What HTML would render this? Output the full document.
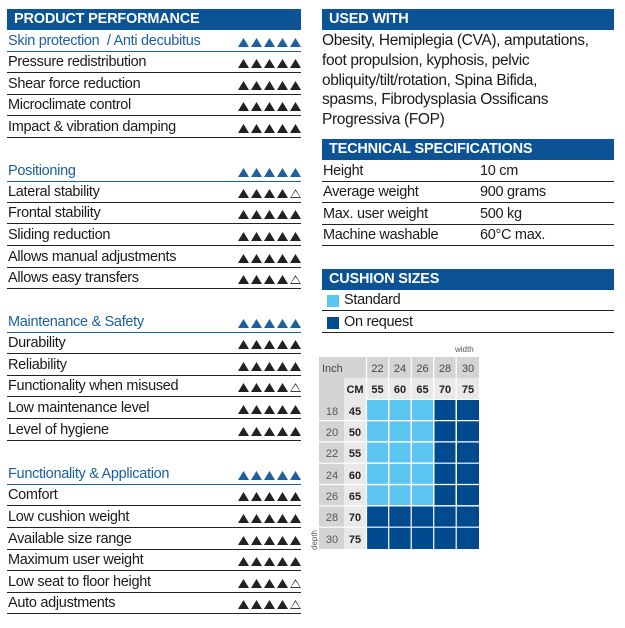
<!DOCTYPE html>
<html><head><meta charset="utf-8"><style>
*{margin:0;padding:0;box-sizing:border-box}
body{width:625px;height:628px;background:#fff;position:relative;font-family:"Liberation Sans",sans-serif;color:#1a1a1a;overflow:hidden}
.bar{position:absolute;height:21px;background:#0b5394;color:#fff;font-weight:bold;font-size:14.5px;line-height:21px;padding-left:7px;letter-spacing:-0.2px}
.r{position:absolute;left:7px;width:294px;height:21px;border-bottom:1px solid #222;font-size:14.5px;line-height:21px;padding-left:1px;letter-spacing:-0.3px}
.c{color:#1d5fa0;border-bottom:1.5px solid #1d5fa0}
.t{position:absolute;right:0;top:7px;height:9px;display:flex;gap:2px}
.t i{display:block;width:11px;height:9px;background:#222;clip-path:polygon(50% 0,100% 100%,0 100%)}
.c .t i{background:#1d5fa0}
.t i.o{background:none;position:relative}
.t i.o:after{content:"";position:absolute;inset:0;background:#222;clip-path:polygon(50% 0,100% 100%,0 100%,0 100%,50% 0,50% 18%,10% 90%,90% 90%,50% 18%,50% 0)}
.s{position:absolute;left:322px;width:292px;height:21px;border-bottom:1px solid #222;font-size:14.5px;line-height:21px;padding-left:1px;letter-spacing:-0.3px}
.s b{position:absolute;left:158px;font-weight:normal}
.g{position:absolute;font-size:11px;text-align:center;line-height:20px}
</style></head><body>
<div class="bar" style="left:7px;top:9px;width:294px">PRODUCT PERFORMANCE</div>
<div class="bar" style="left:322px;top:9px;width:292px">USED WITH</div>

<div class="r c" style="top:31px">Skin protection &nbsp;/ Anti decubitus<div class="t"><i></i><i></i><i></i><i></i><i></i></div></div>
<div class="r" style="top:52px">Pressure redistribution<div class="t"><i></i><i></i><i></i><i></i><i></i></div></div>
<div class="r" style="top:74px">Shear force reduction<div class="t"><i></i><i></i><i></i><i></i><i></i></div></div>
<div class="r" style="top:95px">Microclimate control<div class="t"><i></i><i></i><i></i><i></i><i></i></div></div>
<div class="r" style="top:117px">Impact &amp; vibration damping<div class="t"><i></i><i></i><i></i><i></i><i></i></div></div>

<div class="r c" style="top:161px">Positioning<div class="t"><i></i><i></i><i></i><i></i><i></i></div></div>
<div class="r" style="top:182px">Lateral stability<div class="t"><i></i><i></i><i></i><i></i><i class="o"></i></div></div>
<div class="r" style="top:203px">Frontal stability<div class="t"><i></i><i></i><i></i><i></i><i></i></div></div>
<div class="r" style="top:225px">Sliding reduction<div class="t"><i></i><i></i><i></i><i></i><i></i></div></div>
<div class="r" style="top:247px">Allows manual adjustments<div class="t"><i></i><i></i><i></i><i></i><i></i></div></div>
<div class="r" style="top:268px">Allows easy transfers<div class="t"><i></i><i></i><i></i><i></i><i class="o"></i></div></div>

<div class="r c" style="top:312px">Maintenance &amp; Safety<div class="t"><i></i><i></i><i></i><i></i><i></i></div></div>
<div class="r" style="top:333px">Durability<div class="t"><i></i><i></i><i></i><i></i><i></i></div></div>
<div class="r" style="top:355px">Reliability<div class="t"><i></i><i></i><i></i><i></i><i></i></div></div>
<div class="r" style="top:376px">Functionality when misused<div class="t"><i></i><i></i><i></i><i></i><i class="o"></i></div></div>
<div class="r" style="top:398px">Low maintenance level<div class="t"><i></i><i></i><i></i><i></i><i></i></div></div>
<div class="r" style="top:420px">Level of hygiene<div class="t"><i></i><i></i><i></i><i></i><i></i></div></div>

<div class="r c" style="top:464px">Functionality &amp; Application<div class="t"><i></i><i></i><i></i><i></i><i></i></div></div>
<div class="r" style="top:485px">Comfort<div class="t"><i></i><i></i><i></i><i></i><i></i></div></div>
<div class="r" style="top:507px">Low cushion weight<div class="t"><i></i><i></i><i></i><i></i><i></i></div></div>
<div class="r" style="top:529px">Available size range<div class="t"><i></i><i></i><i></i><i></i><i></i></div></div>
<div class="r" style="top:550px">Maximum user weight<div class="t"><i></i><i></i><i></i><i></i><i></i></div></div>
<div class="r" style="top:572px">Low seat to floor height<div class="t"><i></i><i></i><i></i><i></i><i class="o"></i></div></div>
<div class="r" style="top:593px">Auto adjustments<div class="t"><i></i><i></i><i></i><i></i><i class="o"></i></div></div>

<div style="position:absolute;left:322px;top:31px;width:300px;white-space:nowrap;font-size:15.5px;line-height:19.8px;letter-spacing:-0.35px">Obesity, Hemiplegia (CVA), amputations,<br>foot propulsion, kyphosis, pelvic<br>obliquity/tilt/rotation, Spina Bifida,<br>spasms, Fibrodysplasia Ossificans<br>Progressiva (FOP)</div>

<div class="bar" style="left:322px;top:139px;width:292px">TECHNICAL SPECIFICATIONS</div>
<div class="s" style="top:161px">Height<b>10 cm</b></div>
<div class="s" style="top:182px">Average weight<b>900 grams</b></div>
<div class="s" style="top:204px">Max. user weight<b>500 kg</b></div>
<div class="s" style="top:225px">Machine washable<b>60°C max.</b></div>

<div class="bar" style="left:322px;top:269px;width:292px">CUSHION SIZES</div>
<div class="s" style="top:290px;padding-left:22px"><span style="position:absolute;left:5px;top:5px;width:12px;height:12px;background:#5bc5f2"></span>Standard</div>
<div class="s" style="top:312px;padding-left:22px"><span style="position:absolute;left:5px;top:5px;width:12px;height:12px;background:#004a8f"></span>On request</div>

<div class="g" style="left:455px;top:340px;font-size:8px;color:#555">width</div>
<div class="g" style="left:305px;top:530px;font-size:8px;color:#555;transform:rotate(-90deg)">depth</div>
<svg style="position:absolute;left:319px;top:357px" width="160" height="192" font-family="Liberation Sans, sans-serif" font-size="11">
<rect x="0" y="0" width="160" height="192" fill="#fff"/>
<rect x="0" y="0" width="47" height="21" fill="#d4d4d4"/>
<rect x="0" y="21" width="25" height="171" fill="#d4d4d4"/>
<rect x="25" y="21" width="22" height="171" fill="#e9e9e9"/>
<rect x="47" y="0" width="113" height="21" fill="#d4d4d4"/>
<rect x="47" y="21" width="113" height="21" fill="#e9e9e9"/>
<g fill="#5bc5f2">
<rect x="48" y="43" width="21" height="20"/><rect x="70.5" y="43" width="21" height="20"/><rect x="93" y="43" width="21" height="20"/>
<rect x="48" y="64.3" width="21" height="20"/><rect x="70.5" y="64.3" width="21" height="20"/><rect x="93" y="64.3" width="21" height="20"/>
<rect x="48" y="85.6" width="21" height="20"/><rect x="70.5" y="85.6" width="21" height="20"/><rect x="93" y="85.6" width="21" height="20"/>
<rect x="48" y="106.9" width="21" height="20"/><rect x="70.5" y="106.9" width="21" height="20"/><rect x="93" y="106.9" width="21" height="20"/>
<rect x="48" y="128.2" width="21" height="20"/><rect x="70.5" y="128.2" width="21" height="20"/><rect x="93" y="128.2" width="21" height="20"/>
</g>
<g fill="#004a8f">
<rect x="115.5" y="43" width="21" height="105.2"/><rect x="138" y="43" width="22" height="105.2"/>
<rect x="48" y="149.5" width="112" height="42.5"/>
</g>
<g stroke="#fff" stroke-width="1.2">
<line x1="48" y1="63.6" x2="160" y2="63.6"/><line x1="48" y1="84.9" x2="160" y2="84.9"/><line x1="48" y1="106.2" x2="160" y2="106.2"/><line x1="48" y1="127.5" x2="160" y2="127.5"/><line x1="48" y1="148.8" x2="160" y2="148.8"/><line x1="48" y1="170.2" x2="160" y2="170.2"/>
<line x1="69.7" y1="43" x2="69.7" y2="192"/><line x1="92.2" y1="43" x2="92.2" y2="192"/><line x1="114.7" y1="43" x2="114.7" y2="192"/><line x1="137.2" y1="43" x2="137.2" y2="192"/>
<line x1="0" y1="63.6" x2="47" y2="63.6"/><line x1="0" y1="84.9" x2="47" y2="84.9"/><line x1="0" y1="106.2" x2="47" y2="106.2"/><line x1="0" y1="127.5" x2="47" y2="127.5"/><line x1="0" y1="148.8" x2="47" y2="148.8"/><line x1="0" y1="170.2" x2="47" y2="170.2"/>
<line x1="47.5" y1="0" x2="47.5" y2="192"/><line x1="69.7" y1="0" x2="69.7" y2="42"/><line x1="92.2" y1="0" x2="92.2" y2="42"/><line x1="114.7" y1="0" x2="114.7" y2="42"/><line x1="137.2" y1="0" x2="137.2" y2="42"/>
</g>
<g fill="#444"><text x="3" y="15">Inch</text>
<text x="58.5" y="15" text-anchor="middle">22</text><text x="81" y="15" text-anchor="middle">24</text><text x="103.5" y="15" text-anchor="middle">26</text><text x="126" y="15" text-anchor="middle">28</text><text x="149" y="15" text-anchor="middle">30</text></g>
<g font-weight="bold" fill="#222" text-anchor="middle"><text x="36" y="36">CM</text>
<text x="58.5" y="36">55</text><text x="81" y="36">60</text><text x="103.5" y="36">65</text><text x="126" y="36">70</text><text x="149" y="36">75</text>
<text x="36" y="58">45</text><text x="36" y="79">50</text><text x="36" y="100">55</text><text x="36" y="122">60</text><text x="36" y="143">65</text><text x="36" y="164">70</text><text x="36" y="186">75</text></g>
<g fill="#555" text-anchor="middle"><text x="13" y="58">18</text><text x="13" y="79">20</text><text x="13" y="100">22</text><text x="13" y="122">24</text><text x="13" y="143">26</text><text x="13" y="164">28</text><text x="13" y="186">30</text></g>
</svg>
</body></html>
